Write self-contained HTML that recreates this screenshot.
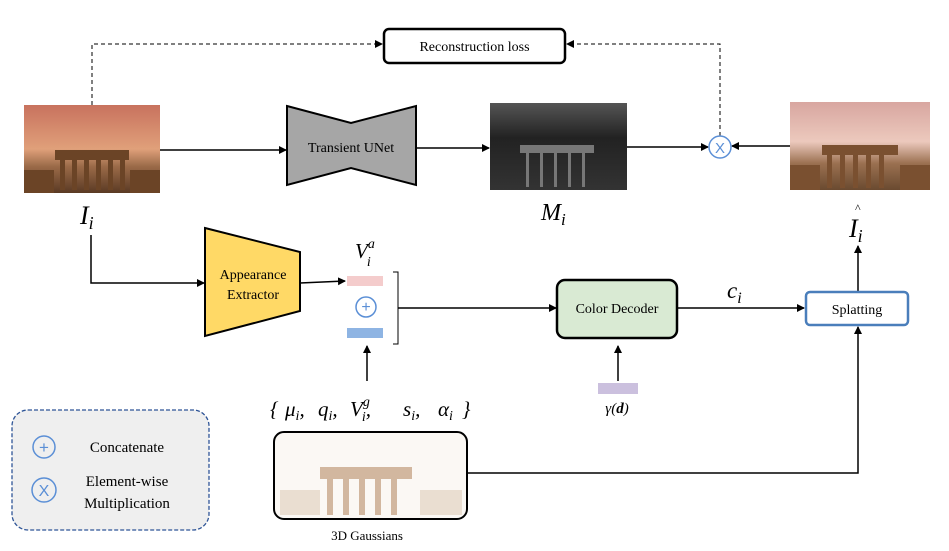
<!DOCTYPE html>
<html><head><meta charset="utf-8"><style>
body{margin:0;background:#fff;}
svg{display:block;font-family:"Liberation Serif",serif;}
</style></head><body>
<svg width="949" height="551" viewBox="0 0 949 551" xmlns="http://www.w3.org/2000/svg">
<defs>
<marker id="a" markerWidth="8" markerHeight="8" refX="7" refY="4" orient="auto" markerUnits="userSpaceOnUse"><path d="M0,0 L8,4 L0,8z" fill="#000"/></marker>
<linearGradient id="sky1" x1="0" y1="0" x2="0" y2="1"><stop offset="0" stop-color="#c8725e"/><stop offset="0.5" stop-color="#e0a07a"/><stop offset="0.7" stop-color="#9a6a48"/><stop offset="1" stop-color="#5a3a24"/></linearGradient>
<linearGradient id="sky2" x1="0" y1="0" x2="0" y2="1"><stop offset="0" stop-color="#d8a6a0"/><stop offset="0.45" stop-color="#ecc9bd"/><stop offset="0.7" stop-color="#9a7050"/><stop offset="1" stop-color="#6a4a30"/></linearGradient>
<linearGradient id="m" x1="0" y1="0" x2="0" y2="1"><stop offset="0" stop-color="#555"/><stop offset="0.4" stop-color="#222"/><stop offset="1" stop-color="#333"/></linearGradient>
</defs>
<path d="M92,105 V44 H382" fill="none" stroke="#000" stroke-dasharray="4,3" marker-end="url(#a)"/>
<path d="M720,136 V44 H567" fill="none" stroke="#000" stroke-dasharray="4,3" marker-end="url(#a)"/>
<rect x="384" y="29" width="181" height="34" rx="5" fill="#fff" stroke="#000" stroke-width="2.5"/>
<text x="474.5" y="51" font-size="14" text-anchor="middle">Reconstruction loss</text>
<rect x="24" y="105" width="136" height="88" fill="url(#sky1)"/>
<g fill="#6b4426"><rect x="55" y="150" width="74" height="10"/><rect x="60" y="160" width="5" height="30"/><rect x="72" y="160" width="5" height="30"/><rect x="84" y="160" width="5" height="30"/><rect x="96" y="160" width="5" height="30"/><rect x="108" y="160" width="5" height="30"/><rect x="120" y="160" width="5" height="30"/><rect x="24" y="170" width="30" height="23"/><rect x="130" y="170" width="30" height="23"/></g>
<rect x="490" y="103" width="137" height="87" fill="url(#m)"/>
<g fill="#777"><rect x="520" y="145" width="74" height="8"/><rect x="526" y="153" width="3" height="34"/><rect x="540" y="153" width="3" height="34"/><rect x="554" y="153" width="3" height="34"/><rect x="568" y="153" width="3" height="34"/><rect x="582" y="153" width="3" height="34"/></g>
<rect x="790" y="102" width="140" height="88" fill="url(#sky2)"/>
<g fill="#7a5030"><rect x="822" y="145" width="76" height="10"/><rect x="827" y="155" width="5" height="33"/><rect x="840" y="155" width="5" height="33"/><rect x="853" y="155" width="5" height="33"/><rect x="866" y="155" width="5" height="33"/><rect x="879" y="155" width="5" height="33"/><rect x="790" y="165" width="30" height="25"/><rect x="900" y="165" width="30" height="25"/></g>
<path d="M287,106 L351,123 L416,106 L416,185 L351,168 L287,185z" fill="#a6a6a6" stroke="#000" stroke-width="2"/>
<text x="351" y="152" font-size="14" text-anchor="middle">Transient UNet</text>
<line x1="160" y1="150" x2="286" y2="150" stroke="#000" stroke-width="1.5" marker-end="url(#a)"/>
<line x1="416" y1="148" x2="489" y2="148" stroke="#000" stroke-width="1.5" marker-end="url(#a)"/>
<line x1="627" y1="147" x2="708" y2="147" stroke="#000" stroke-width="1.5" marker-end="url(#a)"/>
<line x1="790" y1="146" x2="732" y2="146" stroke="#000" stroke-width="1.5" marker-end="url(#a)"/>
<circle cx="720" cy="147" r="11" fill="#fff" stroke="#5b8fd6" stroke-width="1.5"/>
<text x="720" y="153" font-size="15" fill="#5b8fd6" text-anchor="middle" font-family="Liberation Sans,sans-serif">X</text>
<text x="80" y="224" font-size="26" font-style="italic">I<tspan font-size="18" dy="5">i</tspan></text>
<text x="541" y="220" font-size="24" font-style="italic">M<tspan font-size="17" dy="5">i</tspan></text>
<text x="849" y="237" font-size="26" font-style="italic">I<tspan font-size="18" dy="5">i</tspan></text>
<text x="855" y="212" font-size="12">^</text>
<line x1="858" y1="291" x2="858" y2="246" stroke="#000" stroke-width="1.5" marker-end="url(#a)"/>
<path d="M91,235 V283 H204" fill="none" stroke="#000" stroke-width="1.5" marker-end="url(#a)"/>
<path d="M205,228 L300,252 L300,311 L205,336z" fill="#ffd966" stroke="#000" stroke-width="2"/>
<text x="253" y="279" font-size="14" text-anchor="middle">Appearance</text>
<text x="253" y="299" font-size="14" text-anchor="middle">Extractor</text>
<line x1="300" y1="283" x2="345" y2="281" stroke="#000" stroke-width="1.5" marker-end="url(#a)"/>
<text x="355" y="258" font-size="21" font-style="italic">V<tspan font-size="14" dy="-10">a</tspan><tspan font-size="14" dx="-8" dy="18">i</tspan></text>
<rect x="347" y="276" width="36" height="10" fill="#f4cccc"/>
<circle cx="366" cy="307" r="10" fill="#fff" stroke="#5b8fd6" stroke-width="1.5"/>
<text x="366" y="312" font-size="16" fill="#5b8fd6" text-anchor="middle" font-family="Liberation Sans,sans-serif">+</text>
<rect x="347" y="328" width="36" height="10" fill="#8eb4e3"/>
<path d="M393,272 H398 V344 H393" fill="none" stroke="#000" stroke-width="1"/>
<line x1="398" y1="308" x2="556" y2="308" stroke="#000" stroke-width="1.5" marker-end="url(#a)"/>
<rect x="557" y="280" width="120" height="58" rx="8" fill="#d9ead3" stroke="#000" stroke-width="2.5"/>
<text x="617" y="313" font-size="14" text-anchor="middle">Color Decoder</text>
<line x1="677" y1="308" x2="804" y2="308" stroke="#000" stroke-width="1.5" marker-end="url(#a)"/>
<text x="727" y="298" font-size="23" font-style="italic">c<tspan font-size="16" dy="5">i</tspan></text>
<rect x="806" y="292" width="102" height="33" rx="4" fill="#fff" stroke="#4a7ebb" stroke-width="2.5"/>
<text x="857" y="314" font-size="14" text-anchor="middle">Splatting</text>
<line x1="367" y1="381" x2="367" y2="346" stroke="#000" stroke-width="1.5" marker-end="url(#a)"/>
<g font-size="21" font-style="italic">
<text x="270" y="416">{</text>
<text x="285" y="416">μ<tspan font-size="14" dy="4">i</tspan><tspan dy="-4">,</tspan></text>
<text x="318" y="416">q<tspan font-size="14" dy="4">i</tspan><tspan dy="-4">,</tspan></text>
<text x="350" y="416">V<tspan font-size="14" dy="-10">g</tspan><tspan font-size="14" dx="-8" dy="15">i</tspan><tspan dy="-5">,</tspan></text>
<text x="403" y="416">s<tspan font-size="14" dy="4">i</tspan><tspan dy="-4">,</tspan></text>
<text x="438" y="416">α<tspan font-size="14" dy="4">i</tspan></text>
<text x="462" y="416">}</text>
</g>
<line x1="618" y1="381" x2="618" y2="346" stroke="#000" stroke-width="1.5" marker-end="url(#a)"/>
<rect x="598" y="383" width="40" height="11" fill="#cbc0de"/>
<text x="617" y="413" font-size="15" text-anchor="middle" font-style="italic">γ(<tspan font-weight="bold">d</tspan>)</text>
<rect x="274" y="432" width="193" height="87" rx="10" fill="#fbf8f4" stroke="#000" stroke-width="2"/>
<g fill="#c8a88a" opacity="0.8"><rect x="320" y="467" width="92" height="12"/><rect x="327" y="479" width="6" height="36"/><rect x="343" y="479" width="6" height="36"/><rect x="359" y="479" width="6" height="36"/><rect x="375" y="479" width="6" height="36"/><rect x="391" y="479" width="6" height="36"/><rect x="280" y="490" width="40" height="25" opacity="0.4"/><rect x="420" y="490" width="42" height="25" opacity="0.4"/></g>
<text x="367" y="540" font-size="13" text-anchor="middle">3D Gaussians</text>
<path d="M467,473 H858 V327" fill="none" stroke="#000" stroke-width="1.5" marker-end="url(#a)"/>
<rect x="12" y="410" width="197" height="120" rx="16" fill="#efefef" stroke="#2f5597" stroke-width="1.3" stroke-dasharray="4,2"/>
<circle cx="44" cy="447" r="11" fill="none" stroke="#5b8fd6" stroke-width="1.5"/>
<text x="44" y="453" font-size="17" fill="#5b8fd6" text-anchor="middle" font-family="Liberation Sans,sans-serif">+</text>
<text x="127" y="452" font-size="15" text-anchor="middle">Concatenate</text>
<circle cx="44" cy="490" r="12" fill="none" stroke="#5b8fd6" stroke-width="1.5"/>
<text x="44" y="496" font-size="16" fill="#5b8fd6" text-anchor="middle" font-family="Liberation Sans,sans-serif">X</text>
<text x="127" y="486" font-size="15" text-anchor="middle">Element-wise</text>
<text x="127" y="508" font-size="15" text-anchor="middle">Multiplication</text>
</svg>
</body></html>
